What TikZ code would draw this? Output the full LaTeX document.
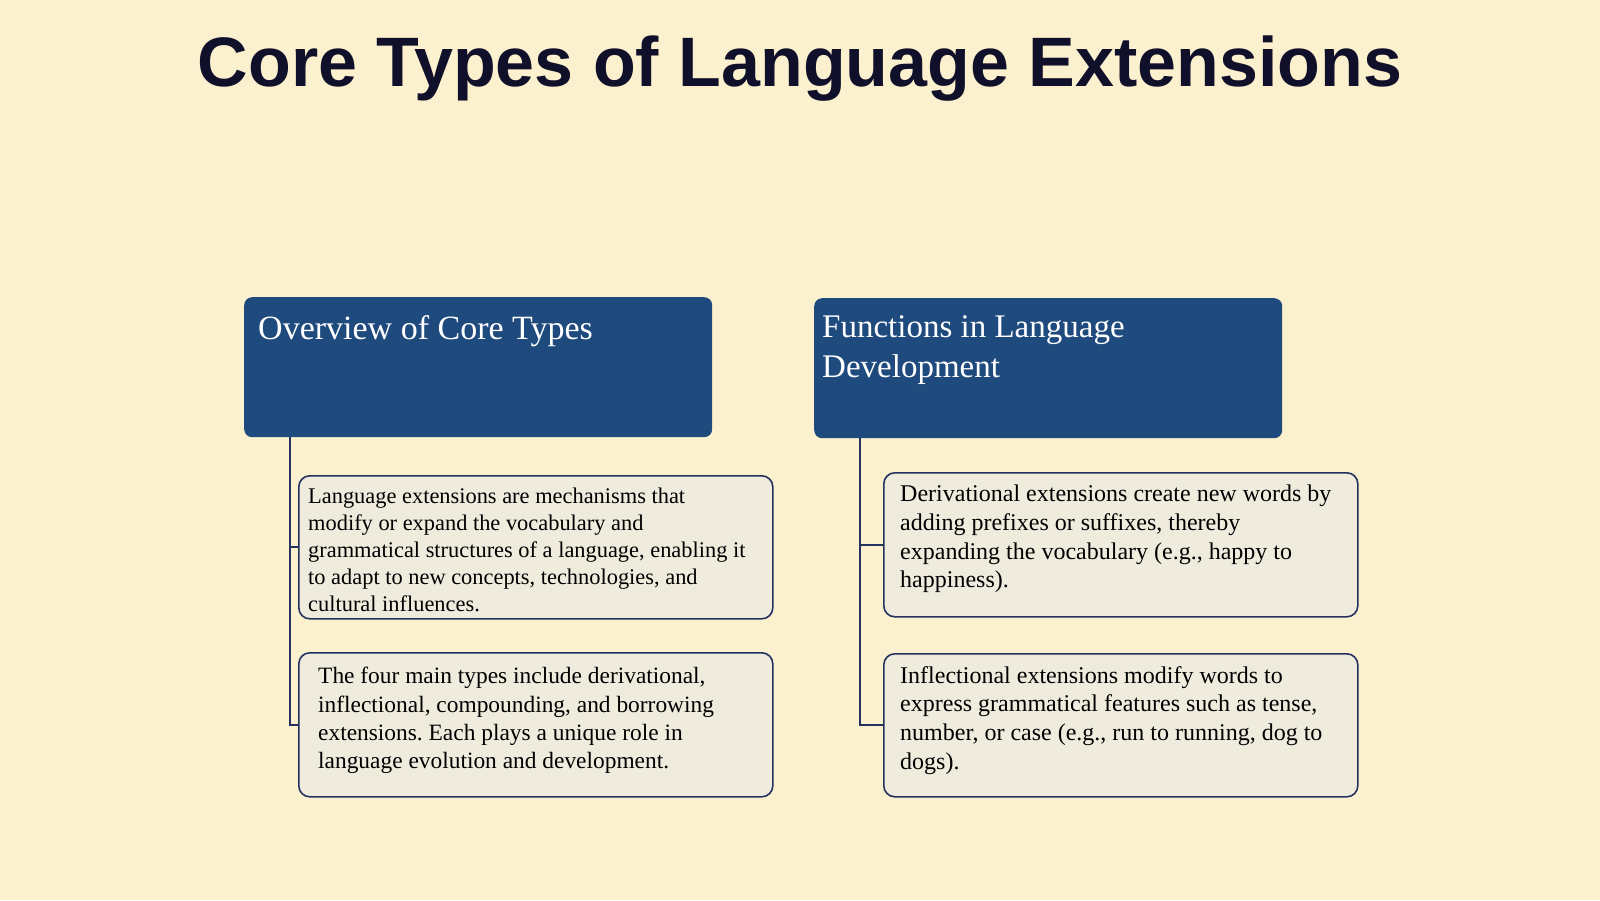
\documentclass[tikz,border=0pt]{standalone}
\usepackage{fontspec}
\setmainfont{Liberation Serif}
\newfontfamily\titlefont{Liberation Sans}
\usetikzlibrary{positioning}
\frenchspacing
\definecolor{bgcream}{HTML}{FBF1CF}
\definecolor{headblue}{HTML}{1F4A7E}
\definecolor{itemfill}{HTML}{EFECDE}
\definecolor{linenavy}{HTML}{24325F}
\definecolor{titleink}{HTML}{10102A}
\tikzset{
  headbox/.style={fill=headblue, rounded corners=8pt, minimum width=468pt, minimum height=140pt, inner sep=0pt, anchor=north west},
  itembox/.style={draw=linenavy, line width=1.6pt, fill=itemfill, rounded corners=11pt, minimum width=474pt, minimum height=143pt, inner sep=0pt, anchor=north west},
  headtext/.style={anchor=north west, inner sep=0pt, align=left, text=white, font=\fontsize{34}{40.5}\selectfont},
  itemtext/.style={anchor=north west, inner sep=0pt, align=left, text=black, font=\fontsize{23.4}{28.4}\selectfont},
  branch/.style={draw=linenavy, line width=1.8pt}
}
\begin{document}
\begin{tikzpicture}[x=1pt, y=-1pt]
\fill[bgcream] (0,0) rectangle (1600,900);
\useasboundingbox (0,0) rectangle (1600,900);
\node[anchor=base, inner sep=0pt, text=titleink, font=\titlefont\bfseries\fontsize{70}{80}\selectfont] (title) at (800,86) {Core Types of Language Extensions};
% left column
\node[headbox] (ovhead) at (244,297) {};
\node[headtext] (ovtitle) at ([shift={(14,18)}]ovhead.north west) {Overview of Core Types};
\node[itembox] (ov1) at (298,475) {};
\node[itemtext, font=\fontsize{22.4}{27}\selectfont] (ov1text) at ([shift={(10,13)}]ov1.north west) {Language extensions are mechanisms that\\modify or expand the vocabulary and\\grammatical structures of a language, enabling it\\to adapt to new concepts, technologies, and\\cultural influences.};
\node[itembox, minimum height=144pt] (ov2) at (298,652) {};
\node[itemtext] (ov2text) at ([shift={(20,15)}]ov2.north west) {The four main types include derivational,\\inflectional, compounding, and borrowing\\extensions. Each plays a unique role in\\language evolution and development.};
\coordinate (ovroot) at ([xshift=46pt]ovhead.south west);
\draw[branch] (ovroot) |- (ov1.west);
\draw[branch] (ovroot) |- (ov2.west);
% right column
\node[headbox] (fnhead) at (814,298) {};
\node[headtext, font=\fontsize{33}{40.5}\selectfont] (fntitle) at ([shift={(8,17)}]fnhead.north west) {Functions in Language\\Development};
\node[itembox, minimum height=144pt] (fn1) at (883,472) {};
\node[itemtext, font=\fontsize{24}{28.7}\selectfont] (fn1text) at ([shift={(17,13)}]fn1.north west) {Derivational extensions create new words by\\adding prefixes or suffixes, thereby\\expanding the vocabulary (e.g., happy to\\happiness).};
\node[itembox] (fn2) at (883,653) {};
\node[itemtext, font=\fontsize{24}{28.7}\selectfont] (fn2text) at ([shift={(17,13)}]fn2.north west) {Inflectional extensions modify words to\\express grammatical features such as tense,\\number, or case (e.g., run to running, dog to\\dogs).};
\coordinate (fnroot) at ([xshift=46pt]fnhead.south west);
\draw[branch] (fnroot) |- (fn1.west);
\draw[branch] (fnroot) |- (fn2.west);
\end{tikzpicture}
\end{document}
